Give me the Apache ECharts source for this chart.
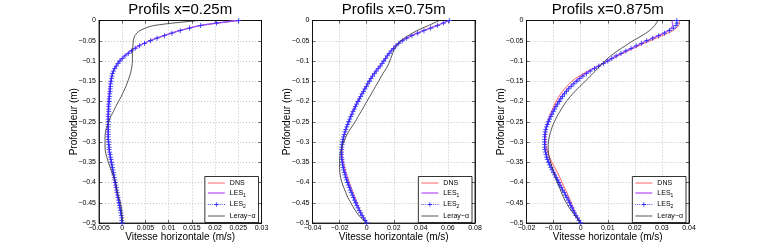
<!DOCTYPE html>
<html><head><meta charset="utf-8">
<script src="https://cdn.jsdelivr.net/npm/echarts@6/dist/echarts.min.js"></script>
<style>html,body{margin:0;padding:0;background:#fff}#c{width:761px;height:251px}</style>
</head><body><div id="c"></div>
<script>
// ---------- data ----------
const depth = [0,-0.0125,-0.025,-0.0375,-0.05,-0.0625,-0.075,-0.0875,-0.1,-0.1125,-0.125,-0.1375,-0.15,-0.1625,-0.175,-0.1875,-0.2,-0.2125,-0.225,-0.2375,-0.25,-0.2625,-0.275,-0.2875,-0.3,-0.3125,-0.325,-0.3375,-0.35,-0.3625,-0.375,-0.3875,-0.4,-0.4125,-0.425,-0.4375,-0.45,-0.4625,-0.475,-0.4875,-0.5];
const depthFine = [0,-0.00625,-0.0125,-0.01875,-0.025,-0.03125,-0.0375,-0.04375,-0.05,-0.05625,-0.0625,-0.06875,-0.075,-0.08125,-0.0875,-0.09375,-0.1,-0.10625,-0.1125,-0.11875,-0.125,-0.13125,-0.1375,-0.14375,-0.15,-0.15625,-0.1625,-0.16875,-0.175,-0.18125,-0.1875,-0.19375,-0.2,-0.20625,-0.2125,-0.21875,-0.225,-0.23125,-0.2375,-0.24375,-0.25,-0.25625,-0.2625,-0.26875,-0.275,-0.28125,-0.2875,-0.29375,-0.3,-0.30625,-0.3125,-0.31875,-0.325,-0.33125,-0.3375,-0.34375,-0.35,-0.35625,-0.3625,-0.36875,-0.375,-0.38125,-0.3875,-0.39375,-0.4,-0.40625,-0.4125,-0.41875,-0.425,-0.43125,-0.4375,-0.44375,-0.45,-0.45625,-0.4625,-0.46875,-0.475,-0.48125,-0.4875,-0.49375,-0.5];
const titles = ['Profils x=0.25m','Profils x=0.75m','Profils x=0.875m'];
const xRanges = [[-0.005,0.03,0.005],[-0.04,0.08,0.02],[-0.02,0.04,0.01]];
const yRange = [-0.5,0,0.05];
const xTitle = 'Vitesse horizontale (m/s)';
const yTitle = 'Profondeur (m)';
const names = ['DNS','LES1','LES2','Leray−α'];

// x = 0.25 m
const dns1 = [0.0250,0.0168,0.0124,0.0090,0.0060,0.0036,0.0019,0.0006,-0.0005,-0.0013,-0.0019,-0.0022,-0.0024,-0.0026,-0.0027,-0.0028,-0.0029,-0.0030,-0.0030,-0.0030,-0.0030,-0.0031,-0.0031,-0.0031,-0.0030,-0.0029,-0.0027,-0.0026,-0.0024,-0.0022,-0.0020,-0.0018,-0.0016,-0.0014,-0.0012,-0.0009,-0.0007,-0.0005,-0.0003,-0.0001,0];
const les1_1 = [0.0249,0.0167,0.0123,0.0089,0.0059,0.0035,0.0018,0.0005,-0.0006,-0.0014,-0.0020,-0.0023,-0.0025,-0.0027,-0.0028,-0.0029,-0.0030,-0.0030,-0.0031,-0.0031,-0.0031,-0.0031,-0.0031,-0.0031,-0.0030,-0.0029,-0.0028,-0.0026,-0.0024,-0.0022,-0.0020,-0.0018,-0.0016,-0.0014,-0.0012,-0.0010,-0.0007,-0.0005,-0.0003,-0.0001,0];
const les2_1 = [0.0251,0.0203,0.0169,0.0145,0.0125,0.0107,0.0091,0.0075,0.0061,0.0048,0.0037,0.0028,0.0020,0.0013,0.0006,0.0000,-0.0005,-0.0009,-0.0013,-0.0016,-0.0019,-0.0021,-0.0022,-0.0023,-0.0024,-0.0025,-0.0025,-0.0026,-0.0026,-0.0027,-0.0027,-0.0028,-0.0028,-0.0029,-0.0029,-0.0029,-0.0029,-0.0030,-0.0030,-0.0030,-0.0030,-0.0030,-0.0030,-0.0030,-0.0030,-0.0030,-0.0030,-0.0030,-0.0029,-0.0029,-0.0028,-0.0028,-0.0027,-0.0026,-0.0025,-0.0024,-0.0023,-0.0022,-0.0021,-0.0020,-0.0019,-0.0018,-0.0017,-0.0016,-0.0015,-0.0014,-0.0013,-0.0012,-0.0011,-0.0010,-0.0009,-0.0008,-0.0007,-0.0006,-0.0005,-0.0004,-0.0003,-0.0002,-0.0001,-0.0001,0];
const leray1 = [0.0166,0.0068,0.0038,0.0027,0.0024,0.0023,0.0022,0.0022,0.0022,0.0021,0.0019,0.0016,0.0012,0.0008,0.0003,-0.0002,-0.0008,-0.0014,-0.0019,-0.0025,-0.0029,-0.0033,-0.0036,-0.0037,-0.0037,-0.0037,-0.0036,-0.0033,-0.0030,-0.0026,-0.0022,-0.0018,-0.0014,-0.0012,-0.0010,-0.0007,-0.0004,-0.0002,-0.0001,0,0];

// x = 0.75 m
const dns2 = [0.0605,0.0517,0.0419,0.0331,0.0261,0.0214,0.0178,0.0149,0.0123,0.0095,0.0064,0.0038,0.0014,-0.0007,-0.0028,-0.0049,-0.0069,-0.0087,-0.0104,-0.0119,-0.0133,-0.0147,-0.0159,-0.0169,-0.0176,-0.0180,-0.0181,-0.0178,-0.0172,-0.0163,-0.0153,-0.0141,-0.0128,-0.0115,-0.0101,-0.0086,-0.0071,-0.0056,-0.0040,-0.0021,0];
const les1_2 = [0.0608,0.0520,0.0421,0.0332,0.0262,0.0215,0.0180,0.0151,0.0125,0.0098,0.0067,0.0041,0.0017,-0.0004,-0.0025,-0.0046,-0.0066,-0.0085,-0.0103,-0.0118,-0.0133,-0.0147,-0.0160,-0.0170,-0.0178,-0.0182,-0.0184,-0.0182,-0.0177,-0.0169,-0.0159,-0.0148,-0.0135,-0.0121,-0.0107,-0.0092,-0.0076,-0.0060,-0.0042,-0.0022,0];
const les2_2 = [0.0610,0.0567,0.0522,0.0473,0.0423,0.0377,0.0334,0.0296,0.0263,0.0237,0.0216,0.0198,0.0181,0.0166,0.0152,0.0140,0.0127,0.0114,0.0100,0.0085,0.0070,0.0057,0.0044,0.0032,0.0020,0.0009,-0.0002,-0.0013,-0.0023,-0.0034,-0.0044,-0.0054,-0.0064,-0.0074,-0.0083,-0.0092,-0.0101,-0.0109,-0.0117,-0.0125,-0.0132,-0.0140,-0.0147,-0.0154,-0.0160,-0.0166,-0.0171,-0.0175,-0.0179,-0.0182,-0.0184,-0.0185,-0.0186,-0.0186,-0.0185,-0.0183,-0.0181,-0.0178,-0.0174,-0.0170,-0.0165,-0.0160,-0.0154,-0.0148,-0.0142,-0.0135,-0.0128,-0.0121,-0.0114,-0.0106,-0.0098,-0.0090,-0.0081,-0.0073,-0.0064,-0.0055,-0.0045,-0.0035,-0.0024,-0.0012,0];
const leray2 = [0.0537,0.0456,0.0371,0.0306,0.0252,0.0219,0.0199,0.0185,0.0170,0.0155,0.0132,0.0108,0.0088,0.0066,0.0045,0.0023,0.0001,-0.0020,-0.0042,-0.0064,-0.0085,-0.0110,-0.0134,-0.0154,-0.0170,-0.0184,-0.0193,-0.0198,-0.0200,-0.0200,-0.0198,-0.0192,-0.0183,-0.0169,-0.0154,-0.0138,-0.0117,-0.0096,-0.0072,-0.0041,0];

// x = 0.875 m
const dns3 = [0.0366,0.0361,0.0340,0.0300,0.0256,0.0215,0.0175,0.0137,0.0101,0.0063,0.0026,-0.0006,-0.0033,-0.0051,-0.0067,-0.0080,-0.0091,-0.0100,-0.0108,-0.0116,-0.0122,-0.0126,-0.0128,-0.0130,-0.0130,-0.0127,-0.0122,-0.0115,-0.0106,-0.0096,-0.0086,-0.0077,-0.0069,-0.0060,-0.0051,-0.0043,-0.0035,-0.0027,-0.0019,-0.0010,0];
const les1_3 = [0.0337,0.0340,0.0322,0.0286,0.0244,0.0206,0.0168,0.0132,0.0099,0.0065,0.0032,0.0004,-0.0019,-0.0039,-0.0056,-0.0071,-0.0083,-0.0094,-0.0104,-0.0113,-0.0121,-0.0127,-0.0131,-0.0133,-0.0133,-0.0132,-0.0128,-0.0123,-0.0116,-0.0107,-0.0097,-0.0088,-0.0078,-0.0069,-0.0059,-0.0049,-0.0040,-0.0031,-0.0022,-0.0011,0];
const les2_3 = [0.0355,0.0356,0.0352,0.0342,0.0328,0.0309,0.0288,0.0266,0.0244,0.0224,0.0205,0.0186,0.0167,0.0149,0.0131,0.0115,0.0100,0.0084,0.0067,0.0051,0.0035,0.0021,0.0008,-0.0003,-0.0014,-0.0025,-0.0035,-0.0044,-0.0052,-0.0060,-0.0067,-0.0073,-0.0079,-0.0085,-0.0091,-0.0096,-0.0101,-0.0106,-0.0110,-0.0115,-0.0119,-0.0123,-0.0126,-0.0129,-0.0131,-0.0132,-0.0133,-0.0133,-0.0133,-0.0133,-0.0133,-0.0132,-0.0130,-0.0128,-0.0126,-0.0123,-0.0119,-0.0115,-0.0110,-0.0106,-0.0101,-0.0096,-0.0091,-0.0086,-0.0081,-0.0077,-0.0072,-0.0067,-0.0061,-0.0056,-0.0051,-0.0046,-0.0041,-0.0037,-0.0032,-0.0028,-0.0023,-0.0018,-0.0012,-0.0006,0];
const leray3 = [0.0285,0.0273,0.0254,0.0226,0.0193,0.0165,0.0136,0.0111,0.0089,0.0071,0.0054,0.0035,0.0017,-0.0003,-0.0021,-0.0038,-0.0053,-0.0066,-0.0077,-0.0088,-0.0097,-0.0105,-0.0111,-0.0116,-0.0119,-0.0120,-0.0119,-0.0116,-0.0111,-0.0105,-0.0099,-0.0093,-0.0086,-0.0078,-0.0071,-0.0063,-0.0053,-0.0042,-0.0028,-0.0014,0];

const profiles = [[dns1,les1_1,les2_1,leray1],[dns2,les1_2,les2_2,leray2],[dns3,les1_3,les2_3,leray3]];
const depths = [depth, depth, depthFine, depth];

// ---------- layout / style ----------
const FONT = '"Liberation Sans", Arial, Helvetica, sans-serif';
const gridLeft = [99, 312.5, 526.5];
const gridW = 162.5, gridTop = 20.5, gridH = 202.5;
const colors = ['#ff3a3a', '#c264ff', '#2a2aff', '#2b2b2b'];
const plusPath = 'path://M4.2,0h1.6v4.2h4.2v1.6h-4.2v4.2h-1.6v-4.2h-4.2v-1.6h4.2z';
const iconLine = 'path://M0,0M17,7M0,3.1H17V3.9H0Z';
const iconThick = 'path://M0,0M17,7M0,2.8H17V4.2H0Z';
const iconDotPlus = 'path://M0,0M17,7M0,3.1h0.8v0.8h-0.8zM2,3.1h0.8v0.8h-0.8zM4,3.1h0.8v0.8h-0.8zM12,3.1h0.8v0.8h-0.8zM14,3.1h0.8v0.8h-0.8zM16.2,3.1h0.8v0.8h-0.8zM8.1,1.2h0.8v1.9h1.9v0.8h-1.9v1.9h-0.8v-1.9h-1.9v-0.8h1.9z';
const icons = [iconLine, iconThick, iconDotPlus, iconLine];
const fmt = v => { const s = String(parseFloat(Number(v).toFixed(5))); return s.replace('-', '\u2212'); };

const grids = [], xAxes = [], yAxes = [], series = [], legends = [], titleOpts = [];
const axLine = {show: true, onZero: false, lineStyle: {color: '#000', width: 0.8}};
const axTick = {show: true, inside: true, length: 3, lineStyle: {color: '#000', width: 0.6}};
const split = {show: true, lineStyle: {color: '#b4b4b4', type: [1, 2], width: 0.8}};
for (let g = 0; g < 3; g++) {
  titleOpts.push({text: titles[g], left: gridLeft[g] + gridW / 2, top: 2.5, textAlign: 'center', padding: 0,
    textStyle: {fontFamily: FONT, fontSize: 15, fontWeight: 'normal', color: '#000'}});
  grids.push({left: gridLeft[g], top: gridTop, width: gridW, height: gridH, show: true, borderColor: '#000', borderWidth: 0.8, backgroundColor: '#fff'});
  const [xmin, xmax, xint] = xRanges[g];
  const common = {type: 'value', gridIndex: g, min: xmin, max: xmax, interval: xint};
  xAxes.push(Object.assign({}, common, {
    position: 'bottom', name: xTitle, nameLocation: 'middle', nameGap: 9, nameMoveOverlap: false,
    nameTextStyle: {fontFamily: FONT, fontSize: 10, color: '#000'},
    axisLine: axLine, axisTick: axTick,
    axisLabel: {show: true, fontFamily: FONT, fontSize: 7, color: '#000', margin: 2, formatter: fmt},
    splitLine: split
  }));
  xAxes.push(Object.assign({}, common, {
    position: 'top', axisLine: axLine, axisTick: axTick, axisLabel: {show: false}, splitLine: {show: false}
  }));
  const ycommon = {type: 'value', gridIndex: g, min: yRange[0], max: yRange[1], interval: yRange[2]};
  yAxes.push(Object.assign({}, ycommon, {
    position: 'left', name: yTitle, nameLocation: 'middle', nameGap: 20, nameMoveOverlap: false,
    nameTextStyle: {fontFamily: FONT, fontSize: 10, color: '#000'},
    axisLine: axLine, axisTick: axTick,
    axisLabel: {show: true, fontFamily: FONT, fontSize: 7, color: '#000', margin: 3, formatter: fmt},
    splitLine: split
  }));
  yAxes.push(Object.assign({}, ycommon, {
    position: 'right', axisLine: axLine, axisTick: axTick, axisLabel: {show: false}, splitLine: {show: false}
  }));
  const vals = profiles[g];
  for (let s = 0; s < 4; s++) {
    const data = depths[s].map((d, i) => [vals[s][i], d]);
    series.push({
      type: 'line', name: names[s], xAxisIndex: 2 * g, yAxisIndex: 2 * g, data,
      smooth: 0.3, animation: false, silent: true, z: 2 + s,
      showSymbol: s === 2, symbol: s === 2 ? plusPath : 'none', symbolSize: 5,
      itemStyle: {color: colors[s]},
      lineStyle: {color: colors[s], width: s === 1 ? 1.3 : 0.8, type: s === 2 ? 'dotted' : 'solid'}
    });
  }
  legends.push({
    right: 761 - (gridLeft[g] + gridW) + 3, top: 176.5, orient: 'vertical',
    data: names.map((n, i) => ({name: n, icon: icons[i], itemStyle: {color: colors[i], borderWidth: 0}})),
    backgroundColor: '#fff', borderColor: '#000', borderWidth: 0.8, borderRadius: 0,
    padding: [3, 3, 3, 3], itemWidth: 17, itemHeight: 7, itemGap: 3, selectedMode: false,
    textStyle: {fontFamily: FONT, fontSize: 7, color: '#000',
      rich: {a: {fontFamily: FONT, fontSize: 7, color: '#000'}, s: {fontFamily: FONT, fontSize: 5, color: '#000', padding: [5, 0, 0, 0]}}},
    formatter: n => n.startsWith('LES') ? '{a|LES}{s|' + n.slice(3) + '}' : n
  });
}

const chart = echarts.init(document.getElementById('c'), null, {renderer: 'canvas'});
chart.setOption({animation: false, backgroundColor: '#fff', title: titleOpts, grid: grids, xAxis: xAxes, yAxis: yAxes, series, legend: legends});
</script></body></html>
